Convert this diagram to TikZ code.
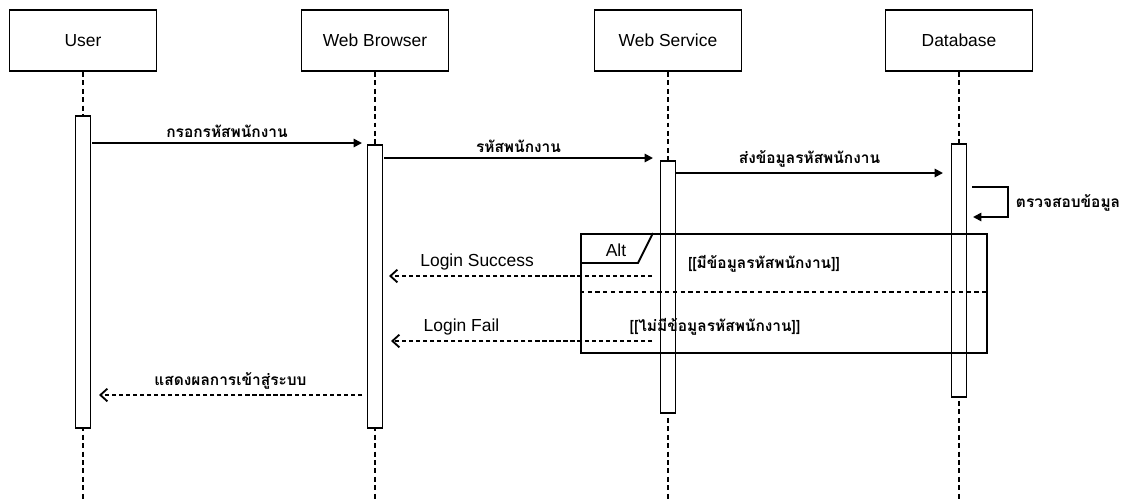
\documentclass[tikz,border=0pt]{standalone}
\usepackage{fontspec}
\setmainfont{Liberation Sans}
\newfontfamily\thaifont[Script=Thai]{Loma}
\usetikzlibrary{arrows.meta}
\tikzset{
  actor/.style={draw, line width=1.3pt, minimum width=3.675cm, minimum height=1.525cm, font=\fontsize{12.4}{14}\selectfont},
  bar/.style={draw, fill=white, line width=1.3pt, minimum width=0.375cm, anchor=north, inner sep=0pt},
  life/.style={line width=1.3pt, dash pattern=on 3.5pt off 2.5pt},
  msg/.style={line width=1.3pt, -{Triangle[length=6pt,width=6pt]}},
  reply/.style={line width=1.2pt, dash pattern=on 3pt off 2pt, -{Straight Barb[length=5pt,width=9pt,line width=1.3pt]}},
  th/.style={font=\thaifont\bfseries\fontsize{11}{13}\selectfont},
  en/.style={font=\fontsize{12.4}{14}\selectfont},
}

\begin{document}
\begin{tikzpicture}[x=0.025cm, y=-0.025cm]
    \useasboundingbox (0, 0) rectangle (1124, 501);

    % objects
    \node[actor] at (83, 40.5) (user) {User};
    \node[actor] at (375, 40.5) (browser) {Web Browser};
    \node[actor] at (668, 40.5) (service) {Web Service};
    \node[actor] at (959, 40.5) (db) {Database};

    % lifelines
    \coordinate (userend) at (83, 501);
    \coordinate (browserend) at (375, 501);
    \coordinate (serviceend) at (668, 501);
    \coordinate (dbend) at (959, 501);
    \draw[life] (user) -- (userend);
    \draw[life] (browser) -- (browserend);
    \draw[life] (service) -- (serviceend);
    \draw[life] (db) -- (dbend);

    % activations
    \node[bar, minimum height=7.8cm] at (83, 115) (userbar) {};
    \node[bar, minimum height=7.075cm] at (375, 144) (browserbar) {};
    \node[bar, minimum height=6.3cm] at (668, 160) (servicebar) {};
    \node[bar, minimum height=6.325cm] at (959, 143) (dbbar) {};

    % calls
    \coordinate (m1a) at (92, 143);   \coordinate (m1b) at (362, 143);
    \coordinate (m2a) at (384, 158);  \coordinate (m2b) at (653, 158);
    \coordinate (m3a) at (676, 173);  \coordinate (m3b) at (943, 173);
    \draw (m1a) edge[msg] node[th, above] (m1) {กรอกรหัสพนักงาน} (m1b);
    \draw (m2a) edge[msg] node[th, above] (m2) {รหัสพนักงาน} (m2b);
    \draw (m3a) edge[msg] node[th, above] (m3) {ส่งข้อมูลรหัสพนักงาน} (m3b);

    % self call
    \coordinate (s1) at (972, 187);  \coordinate (s2) at (1008, 187);
    \coordinate (s3) at (1008, 217); \coordinate (s4) at (973, 217);
    \draw[msg] (s1) -- (s2) -- (s3) -- (s4);
    \node[th, anchor=west] at (1011, 203) (check) {ตรวจสอบข้อมูล};

    % alt frame
    \node[draw, line width=1.3pt, minimum width=10.15cm, minimum height=2.975cm, anchor=north west, inner sep=0pt] at (580, 233) (alt) {};
    \coordinate (tab1) at (653, 233); \coordinate (tab2) at (638, 263); \coordinate (tab3) at (580, 263);
    \draw[line width=1.3pt] (tab1) -- (tab2) -- (tab3);
    \node[en] at (616, 250) (alttxt) {Alt};
    \coordinate (sepa) at (580, 292); \coordinate (sepb) at (986, 292);
    \draw[line width=1.6pt, dash pattern=on 3pt off 2.5pt] (sepa) -- (sepb);
    \node[th] at (764, 264) (g1) {[[มีข้อมูลรหัสพนักงาน]]};
    \node[th] at (715, 327) (g2) {[[ไม่มีข้อมูลรหัสพนักงาน]]};

    % returns
    \coordinate (r1a) at (652, 276); \coordinate (r1b) at (389, 276);
    \coordinate (r2a) at (652, 341); \coordinate (r2b) at (391, 341);
    \coordinate (r3a) at (362, 395); \coordinate (r3b) at (99, 395);
    \draw (r1a) edge[reply] node[en, above, pos=0.665] (r1) {Login Success} (r1b);
    \draw (r2a) edge[reply] node[en, above, pos=0.73] (r2) {Login Fail} (r2b);
    \draw (r3a) edge[reply] node[th, above] (r3) {แสดงผลการเข้าสู่ระบบ} (r3b);
\end{tikzpicture}
\end{document}
